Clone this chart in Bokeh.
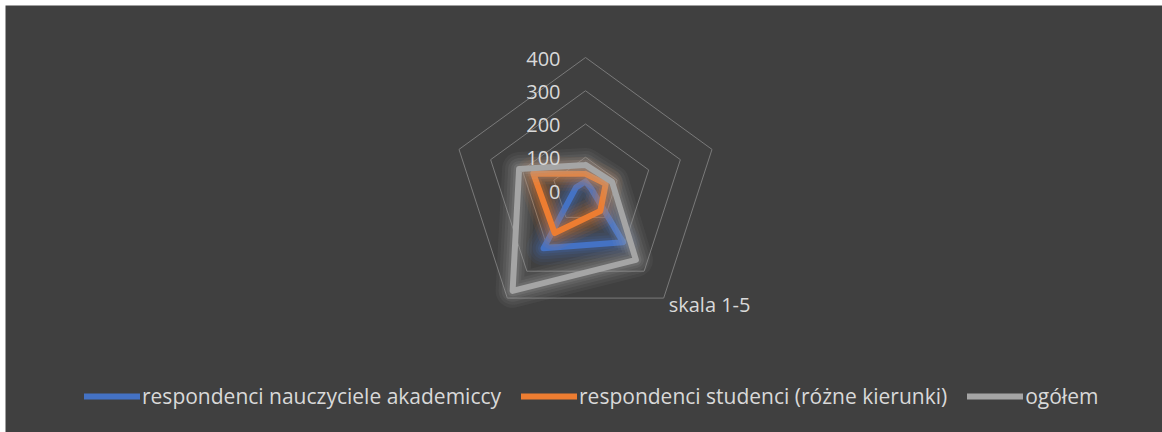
import numpy as np
from bokeh.plotting import figure
from bokeh.models import Range1d, Legend, LegendItem
from bokeh.core.properties import value
from bokeh.embed import file_html
from bokeh.resources import INLINE

# ---- data ----
categories = ["", "", "skala 1-5", "", ""]
series_names = ["respondenci nauczyciele akademiccy",
                "respondenci studenci (różne kierunki)",
                "ogółem"]
nauczyciele = [27, 18, 192, 215, 30]
studenci = [50, 64, 76, 158, 165]
ogolem = [77, 84, 258, 373, 210]
ticks = [0, 100, 200, 300, 400]
tick_labels = ["0", "100", "200", "300", "400"]

colors = ["#4472C4", "#ED7D31", "#A5A5A5"]
FONT = "Open Sans"
TXT = "#D9D9D9"

W, H = 1162, 432
BL, BT = 5, 5
FW, FH = W - BL, H - BT
PX = 133.0 / max(ticks)          # pixels per unit
CX, CY = 580.0, 185.0            # centre in frame pixels

p = figure(width=W, height=H, output_backend="svg", toolbar_location=None,
           x_axis_type=None, y_axis_type=None,
           x_range=Range1d(-CX / PX, (FW - CX) / PX),
           y_range=Range1d(-(FH - CY) / PX, CY / PX))
p.min_border = 0
p.min_border_left = BL
p.min_border_top = BT
p.min_border_right = 0
p.min_border_bottom = 0
p.background_fill_color = "#404040"
p.border_fill_color = "#FFFFFF"
p.outline_line_color = None
p.grid.visible = False

n = len(categories)
ang = np.pi / 2 - 2 * np.pi * np.arange(n) / n


def poly(vals):
    v = np.asarray(vals, dtype=float)
    xs = v * np.cos(ang)
    ys = v * np.sin(ang)
    return list(np.append(xs, xs[0])), list(np.append(ys, ys[0]))


# rings
for t in ticks[1:]:
    xs, ys = poly([t] * n)
    p.line(xs, ys, line_color="#7A7A7A", line_width=1)

# series with glow
mains = []
for vals, col in zip([nauczyciele, studenci, ogolem], colors):
    xs, ys = poly(vals)
    for w, a in [(34, 0.07), (28, 0.08), (22, 0.10), (16, 0.13), (11, 0.16)]:
        p.line(xs, ys, line_color=col, line_alpha=a, line_width=w,
               line_join="round", line_cap="round")
    r = p.line(xs, ys, line_color=col, line_width=6,
               line_join="round", line_cap="round")
    mains.append(r)

# tick labels
p.text(x=[0] * len(ticks), y=ticks, text=tick_labels,
       x_offset=-25, y_offset=1, text_align="right", text_baseline="middle",
       text_font=value(FONT), text_font_size="20px", text_color=TXT)

# category labels
rmax = max(ticks)
for k, lab in enumerate(categories):
    if lab:
        p.text(x=[rmax * np.cos(ang[k])], y=[rmax * np.sin(ang[k])], text=[lab],
               x_offset=5, y_offset=6, text_align="left", text_baseline="middle",
               text_font=value(FONT), text_font_size="20px", text_color=TXT)

legend = Legend(items=[LegendItem(label=nm, renderers=[r])
                       for nm, r in zip(series_names, mains)],
                orientation="horizontal", location=(79, 22),
                glyph_width=56, glyph_height=20, label_standoff=2, spacing=20,
                padding=0, margin=0,
                label_text_font=FONT, label_text_font_size="21px",
                label_text_color=TXT, label_height=20,
                background_fill_alpha=0, border_line_alpha=0)
p.add_layout(legend, "center")

open("out.html", "w").write(file_html(p, INLINE))
